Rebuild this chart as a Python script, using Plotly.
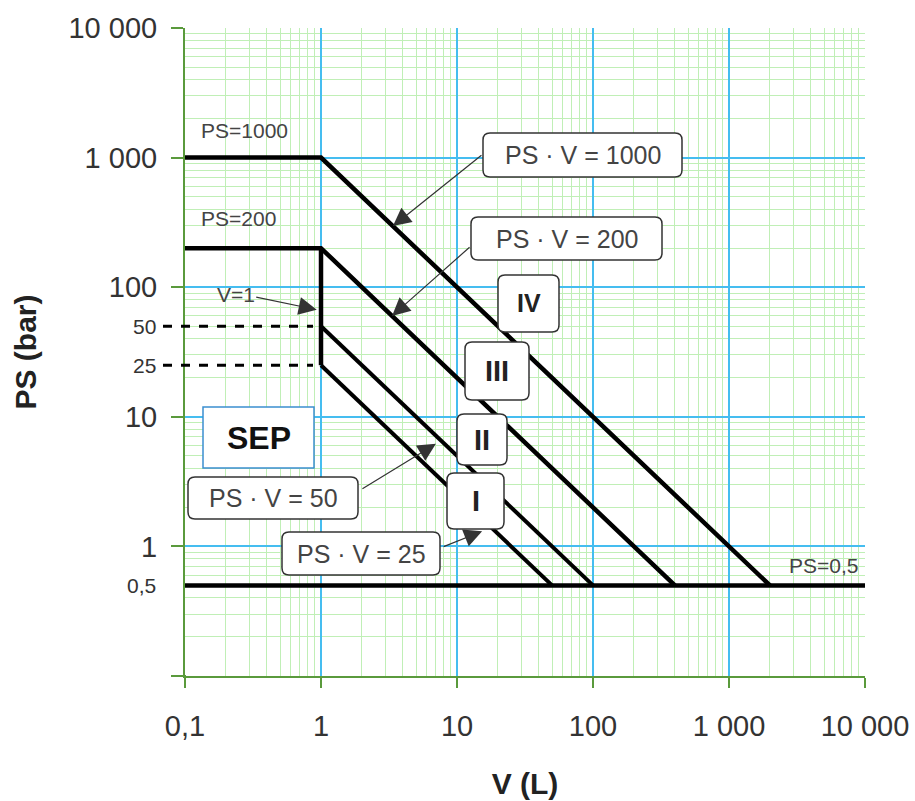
import math
import plotly.graph_objects as go

# ---------------- data ----------------
ps_limits = [1000, 200]          # PS plateau values (bar) for V < 1 L
pv_products = [1000, 200, 50, 25]  # PS·V = const boundaries
ps_min = 0.5
v_min, v_break, v_max = 0.1, 1, 10000
dash_levels = [50, 25]
tick_vals = [0.1, 1, 10, 100, 1000, 10000]
x_tick_text = ["0,1", "1", "10", "100", "1 000", "10 000"]
y_tick_text = ["", "1", "10", "100", "1 000", "10 000"]
small_y_labels = [(50, "50"), (25, "25"), (0.5, "0,5")]
categories = ["IV", "III", "II", "I"]

# arrow tips (V, PS) and pixel offsets to their tails
arrow_tips_v = [3.38, 3.33, 0.93, 7.0, 15.3]
arrow_tips_ps = [296, 60, 67, 6.2, 1.31]
arrow_dx = [90, 79, -62, -75, -40]
arrow_dy = [-72, -70, -13, 46, 16]

# ---------------- geometry (page pixels) ----------------
W, H = 915, 801
L, R, T, B = 185, 865, 28, 676
PW, PH = R - L, B - T


def px(xp):
    return (xp - L) / PW


def py(yp):
    return (B - yp) / PH


fig = go.Figure()

LW = 4.5
for ps, pv in zip(ps_limits, pv_products[:2]):
    fig.add_trace(go.Scatter(x=[v_min, v_break, pv / ps_min], y=[ps, ps, ps_min],
                             mode="lines", line=dict(color="black", width=LW),
                             hoverinfo="skip", showlegend=False))
fig.add_trace(go.Scatter(x=[v_break, v_break], y=[ps_limits[1], pv_products[3]],
                         mode="lines", line=dict(color="black", width=LW),
                         hoverinfo="skip", showlegend=False))
for pv in pv_products[2:]:
    fig.add_trace(go.Scatter(x=[v_break, pv / ps_min], y=[pv / v_break, ps_min],
                             mode="lines", line=dict(color="black", width=LW - 0.5),
                             hoverinfo="skip", showlegend=False))
fig.add_trace(go.Scatter(x=[v_min, v_max], y=[ps_min, ps_min], mode="lines",
                         line=dict(color="black", width=LW),
                         hoverinfo="skip", showlegend=False))

shapes = []
for lv in dash_levels:
    shapes.append(dict(type="line", xref="paper", yref="y", x0=px(163), x1=px(313),
                       y0=lv, y1=lv, line=dict(color="black", width=3, dash="dash"),
                       layer="above"))
AX = "#5a9a3c"
shapes.append(dict(type="line", xref="paper", yref="paper", x0=px(175), x1=px(186),
                   y0=0, y1=0, line=dict(color=AX, width=2)))
shapes.append(dict(type="line", xref="paper", yref="paper", x0=0, x1=0,
                   y0=py(685), y1=py(675), line=dict(color=AX, width=2)))


def rrect(x0, y0, x1, y1, r=7, color="#333", width=1.5):
    a, b_, c, d = px(x0), py(y0), px(x1), py(y1)
    rx, ry = r / PW, r / PH
    path = (f"M{a+rx},{b_} L{c-rx},{b_} Q{c},{b_} {c},{b_-ry} "
            f"L{c},{d+ry} Q{c},{d} {c-rx},{d} L{a+rx},{d} Q{a},{d} {a},{d+ry} "
            f"L{a},{b_-ry} Q{a},{b_} {a+rx},{b_} Z")
    return dict(type="path", xref="paper", yref="paper", path=path,
                fillcolor="white", line=dict(color=color, width=width), layer="above")


annotations = []
FONT = "Liberation Sans, Arial, sans-serif"

boxes = [
    (483, 133, 682, 177, "PS · V = 1000", 25, False),
    (471, 217, 662, 260, "PS · V = 200", 25, False),
    (188, 477, 358, 519, "PS · V = 50", 25, False),
    (282, 532, 440, 575, "PS · V = 25", 25, False),
    (498, 275, 559, 332, categories[0], 25, True),
    (465, 342, 529, 400, categories[1], 29, True),
    (457, 414, 507, 465, categories[2], 29, True),
    (447, 473, 504, 529, categories[3], 29, True),
]
for x0, y0, x1, y1, txt, sz, bold in boxes:
    shapes.append(rrect(x0, y0, x1, y1))
    annotations.append(dict(xref="paper", yref="paper", x=px((x0 + x1) / 2),
                            y=py((y0 + y1) / 2), text=f"<b>{txt}</b>" if bold else txt,
                            showarrow=False, font=dict(family=FONT, size=sz,
                                                       color="#222" if bold else "#444"),
                            xanchor="center", yanchor="middle"))

shapes.append(dict(type="rect", xref="paper", yref="paper", x0=px(203), x1=px(314),
                   y0=py(468), y1=py(407), fillcolor="white",
                   line=dict(color="#3b8fd0", width=1.5), layer="above"))
annotations.append(dict(xref="paper", yref="paper", x=px(259), y=py(438),
                        text="<b>SEP</b>", showarrow=False,
                        font=dict(family=FONT, size=32, color="#111"),
                        xanchor="center", yanchor="middle"))

for xc, yc, txt in [(244, 130, "PS=1000"), (238, 219, "PS=200"),
                    (236, 294, "V=1"), (823, 565, "PS=0,5")]:
    annotations.append(dict(xref="paper", yref="paper", x=px(xc), y=py(yc), text=txt,
                            showarrow=False, font=dict(family=FONT, size=21, color="#444"),
                            xanchor="center", yanchor="middle"))

for v, p, dx, dy in zip(arrow_tips_v, arrow_tips_ps, arrow_dx, arrow_dy):
    annotations.append(dict(xref="x", yref="y", x=math.log10(v), y=math.log10(p),
                            ax=dx, ay=dy, axref="pixel", ayref="pixel", text="",
                            showarrow=True, arrowhead=2, arrowsize=3, arrowwidth=1.2,
                            arrowcolor="#333"))

for val, txt in small_y_labels:
    annotations.append(dict(xref="paper", yref="y", x=px(158), y=math.log10(val),
                            text=txt, showarrow=False, xanchor="right", yanchor="middle",
                            font=dict(family=FONT, size=21, color="#333")))

MAJ = "#45bdf0"
MIN = "#c0efb6"
axis_common = dict(type="log", tickmode="array", tickvals=tick_vals,
                   showgrid=True, gridcolor=MAJ, gridwidth=1.5,
                   minor=dict(dtick="D1", showgrid=True, gridcolor=MIN, gridwidth=1, ticks=""),
                   showline=True, linecolor=AX, linewidth=2,
                   ticks="outside", tickcolor=AX, tickwidth=2,
                   automargin=False,
                   zeroline=False, range=[-1, 4])

fig.update_xaxes(**axis_common, ticktext=x_tick_text, ticklen=10, ticklabelstandoff=13,
                 tickfont=dict(family=FONT, size=29, color="#333"),
                 title=dict(text="<b>V (L)</b>", font=dict(family=FONT, size=30, color="#222"),
                            standoff=32))
fig.update_yaxes(**axis_common, ticktext=y_tick_text, ticklen=12, ticklabelstandoff=8,
                 tickfont=dict(family=FONT, size=29, color="#333"),
                 title=dict(text="<b>PS (bar)</b>", font=dict(family=FONT, size=30, color="#222"),
                            standoff=23))

fig.update_layout(width=W, height=H,
                  margin=dict(l=L, r=W - R, t=T, b=H - B, autoexpand=False),
                  plot_bgcolor="white", paper_bgcolor="white",
                  shapes=shapes, annotations=annotations, showlegend=False)

fig.write_html("out.html", config={"displayModeBar": False},
               post_script="document.body.style.margin='0';"
                           "document.body.style.overflow='hidden';")
